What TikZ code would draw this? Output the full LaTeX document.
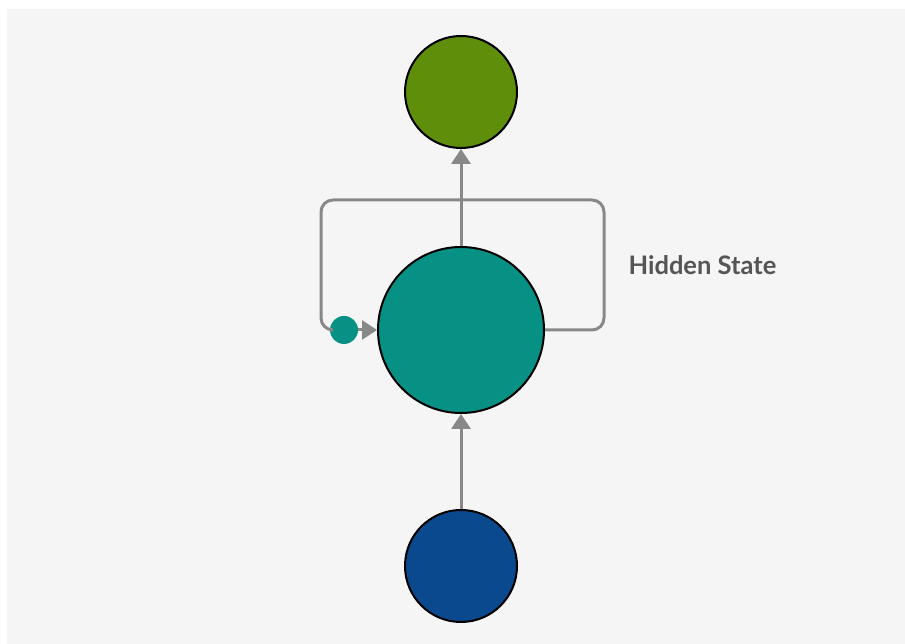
\documentclass[tikz,border=0pt]{standalone}
\usepackage{fontspec}
\setmainfont{Lato}
\usepackage{xcolor}
\usetikzlibrary{arrows.meta}
\definecolor{bggray}{RGB}{245, 245, 245}
\definecolor{linegray}{RGB}{136, 136, 136}
\definecolor{textgray}{RGB}{85, 85, 85}
\definecolor{outgreen}{RGB}{95, 142, 10}
\definecolor{hidteal}{RGB}{7, 145, 133}
\definecolor{inblue}{RGB}{11, 73, 143}

\begin{document}
\begin{tikzpicture}[
    x=1pt, y=1pt,
    unit/.style={circle, draw=black, line width=2pt, inner sep=0pt},
    flow/.style={-{Triangle[length=15pt, width=19pt]}, line width=3pt, linegray},
    loopline/.style={line width=3pt, linegray, rounded corners=12pt},
    label/.style={anchor=west, font=\fontsize{25.5}{30}\selectfont\bfseries, text=textgray}
]

% page and background
\useasboundingbox (0,0) rectangle (905,644);
\fill[white] (0,0) rectangle (905,644);
\fill[bggray] (7,0) rectangle (905,635);

\node[unit, fill=outgreen, minimum size=112pt] (output) at (461,552) {};
\node[unit, fill=hidteal,  minimum size=166pt] (hidden) at (461,314) {};
\node[unit, fill=inblue,   minimum size=112pt] (input)  at (461,78)  {};
\node[circle, fill=hidteal, inner sep=0pt, minimum size=28pt] (gate) at (344,314) {};

% recurrent loop
\coordinate (loopR)  at (604,314);
\coordinate (loopTR) at (604,444);
\coordinate (loopTL) at (321,444);
\coordinate (loopL)  at (321,314);
\draw[loopline] (hidden.east) -- (loopR) -- (loopTR) -- (loopTL) -- (loopL) -- (gate.west);

\draw[flow] (input) -- (hidden);
\draw[flow] (hidden) -- (output);
\draw[flow] (gate) -- (hidden);

\node[label] (state) at (625,379) {Hidden State};

\end{tikzpicture}
\end{document}
